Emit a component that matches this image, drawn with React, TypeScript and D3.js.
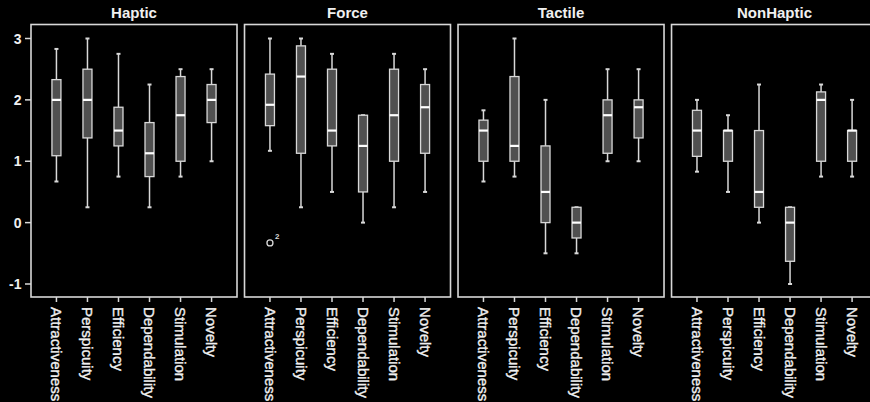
import React, { useRef, useEffect } from 'react';
import * as d3 from 'd3';

// [min, q1, median, q3, max]
const categories = ['Attractiveness', 'Perspicuity', 'Efficiency', 'Dependability', 'Stimulation', 'Novelty'];
const panels = ['Haptic', 'Force', 'Tactile', 'NonHaptic'];
const yTicks = [-1, 0, 1, 2, 3];

const hapticStats = [
  [0.67, 1.09, 2.0, 2.33, 2.83],
  [0.25, 1.38, 2.0, 2.5, 3.0],
  [0.75, 1.25, 1.5, 1.88, 2.75],
  [0.25, 0.75, 1.13, 1.63, 2.25],
  [0.75, 1.0, 1.75, 2.38, 2.5],
  [1.0, 1.63, 2.0, 2.25, 2.5],
];
const forceStats = [
  [1.17, 1.58, 1.92, 2.42, 3.0],
  [0.25, 1.13, 2.38, 2.88, 3.0],
  [0.5, 1.25, 1.5, 2.5, 2.75],
  [0.0, 0.5, 1.25, 1.75, 1.75],
  [0.25, 1.0, 1.75, 2.5, 2.75],
  [0.5, 1.13, 1.88, 2.25, 2.5],
];
const tactileStats = [
  [0.67, 1.0, 1.5, 1.67, 1.83],
  [0.75, 1.0, 1.25, 2.38, 3.0],
  [-0.5, 0.0, 0.5, 1.25, 2.0],
  [-0.5, -0.25, 0.0, 0.25, 0.25],
  [1.0, 1.13, 1.75, 2.0, 2.5],
  [1.0, 1.38, 1.88, 2.0, 2.5],
];
const nonHapticStats = [
  [0.83, 1.08, 1.5, 1.83, 2.0],
  [0.5, 1.0, 1.5, 1.5, 1.75],
  [0.0, 0.25, 0.5, 1.5, 2.25],
  [-1.0, -0.63, 0.0, 0.25, 0.25],
  [0.75, 1.0, 2.0, 2.13, 2.25],
  [0.75, 1.0, 1.5, 1.5, 2.0],
];
const panelStats = [hapticStats, forceStats, tactileStats, nonHapticStats];

// outliers: panel, category, value, case label
const outliers = [{ panel: 'Force', category: 'Attractiveness', value: -0.33, label: '2' }];

const W = 870;
const H = 402;

const App: React.FC = () => {
  const svgRef = useRef<SVGSVGElement | null>(null);

  useEffect(() => {
    if (!svgRef.current) return;
    const svg = d3.select(svgRef.current);
    svg.selectAll('*').remove();

    const fg = '#d8d8d8';
    const top = 24.5;
    const bottom = 297;
    const panelW = 206;
    const font = 'Liberation Sans, Arial, sans-serif';

    const panelScale = d3.scaleBand().domain(panels).range([31, 31 + 4 * 212]).paddingInner(6 / 212);

    const y = d3.scaleLinear().domain([-1, 3]).range([284, 38.5]);

    // y axis labels
    const yAxis = svg.append('g');
    yTicks.forEach(t => {
      yAxis.append('line')
        .attr('x1', 25).attr('x2', 31)
        .attr('y1', y(t)).attr('y2', y(t))
        .attr('stroke', fg).attr('stroke-width', 1.5);
      yAxis.append('text')
        .attr('x', 21.5).attr('y', y(t))
        .attr('dy', '0.36em')
        .attr('text-anchor', 'end')
        .attr('fill', '#f0f0f0')
        .attr('font-family', font)
        .attr('font-weight', 'bold')
        .attr('font-size', 14)
        .text(t);
    });

    panels.forEach((p, pi) => {
      const left = panelScale(p)!;
      const g = svg.append('g');
      const x = d3.scalePoint().domain(categories).range([left, left + panelW]).padding(0.82);

      g.append('rect')
        .attr('x', left).attr('y', top)
        .attr('width', panelW).attr('height', bottom - top)
        .attr('fill', 'none').attr('stroke', fg).attr('stroke-width', 1.6);

      g.append('text')
        .attr('x', left + panelW / 2).attr('y', 17.5)
        .attr('text-anchor', 'middle')
        .attr('fill', '#f0f0f0')
        .attr('font-family', font)
        .attr('font-weight', 'bold')
        .attr('font-size', 15)
        .text(p);

      const boxW = 9;
      const capW = 4;
      panelStats[pi].forEach((s, ci) => {
        const cx = x(categories[ci])!;
        const [mn, q1, med, q3, mx] = s;
        // whiskers
        g.append('line')
          .attr('x1', cx).attr('x2', cx).attr('y1', y(mx)).attr('y2', y(q3))
          .attr('stroke', fg).attr('stroke-width', 1.5);
        g.append('line')
          .attr('x1', cx).attr('x2', cx).attr('y1', y(q1)).attr('y2', y(mn))
          .attr('stroke', fg).attr('stroke-width', 1.5);
        [mn, mx].forEach(v => {
          g.append('line')
            .attr('x1', cx - capW / 2).attr('x2', cx + capW / 2)
            .attr('y1', y(v)).attr('y2', y(v))
            .attr('stroke', fg).attr('stroke-width', 2);
        });
        g.append('rect')
          .attr('x', cx - boxW / 2).attr('y', y(q3))
          .attr('width', boxW).attr('height', y(q1) - y(q3))
          .attr('fill', '#505050').attr('stroke', fg).attr('stroke-width', 1.3);
        g.append('line')
          .attr('x1', cx - boxW / 2).attr('x2', cx + boxW / 2)
          .attr('y1', y(med)).attr('y2', y(med))
          .attr('stroke', '#ffffff').attr('stroke-width', 2.2);
      });

      outliers.filter(o => o.panel === p).forEach(o => {
        const cx = x(o.category)!;
        g.append('circle')
          .attr('cx', cx).attr('cy', y(o.value)).attr('r', 3)
          .attr('fill', 'none').attr('stroke', fg).attr('stroke-width', 1.3);
        g.append('text')
          .attr('x', cx + 5).attr('y', y(o.value) - 4)
          .attr('fill', fg)
          .attr('font-family', font)
          .attr('font-weight', 'bold')
          .attr('font-size', 8)
          .text(o.label);
      });

      // x axis ticks and rotated labels
      categories.forEach(c => {
        const cx = x(c)!;
        g.append('line')
          .attr('x1', cx).attr('x2', cx).attr('y1', bottom).attr('y2', bottom + 5)
          .attr('stroke', fg).attr('stroke-width', 1.5);
        g.append('text')
          .attr('transform', `translate(${cx},${bottom + 10}) rotate(90)`)
          .attr('dy', '0.35em')
          .attr('fill', '#f0f0f0')
          .attr('stroke', '#f0f0f0')
          .attr('stroke-width', 0.35)
          .attr('font-family', font)
          .attr('font-size', 15)
          .text(c);
      });
    });
  }, []);

  return (
    <svg
      ref={svgRef}
      width={W}
      height={H}
      style={{ position: 'absolute', left: 0, top: 0, background: '#000', display: 'block' }}
    />
  );
};

export default App;
